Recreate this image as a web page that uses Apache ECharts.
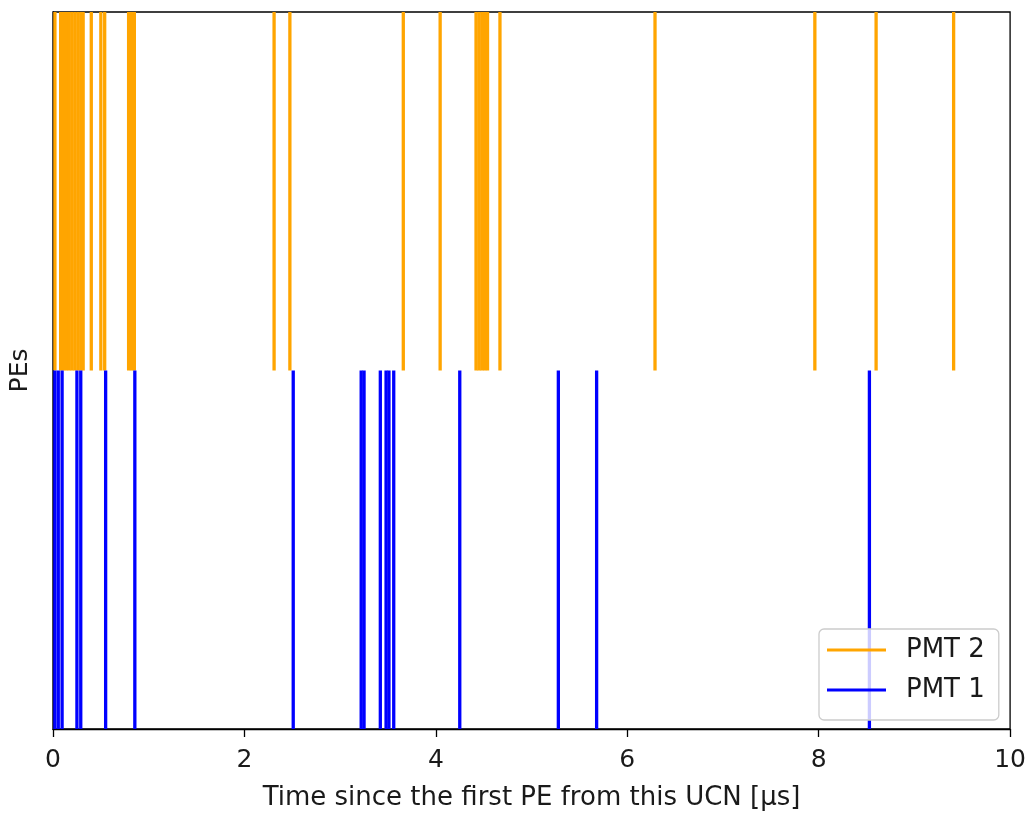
<!DOCTYPE html>
<html>
<head>
<meta charset="utf-8">
<script src="https://cdn.jsdelivr.net/npm/echarts@6/dist/echarts.min.js"></script>
<style>
html,body{margin:0;padding:0;background:#fff;}
#chart{width:1029px;height:816px;}
</style>
</head>
<body>
<div id="chart"></div>
<script>
// Event times (µs since first PE)
const pmt2Times = [0.02, 0.08, 0.11, 0.14, 0.17, 0.20, 0.23, 0.26, 0.29, 0.315, 0.40, 0.50, 0.54, 0.79, 0.82, 0.85, 2.31, 2.475, 3.66, 4.045, 4.42, 4.45, 4.48, 4.51, 4.54, 4.67, 6.29, 7.96, 8.60, 9.41];
const pmt1Times = [0.02, 0.055, 0.095, 0.25, 0.29, 0.55, 0.855, 2.51, 3.22, 3.25, 3.42, 3.48, 3.51, 3.56, 4.25, 5.28, 5.68, 8.53];
const lineOffsets = { pmt2: 1, pmt1: 0 };
const xTicks = [0, 2, 4, 6, 8, 10];
const seriesNames = ['PMT 2', 'PMT 1'];

const FONT = 'DejaVu Sans';

function eventRender(params, api) {
  const x = api.value(0);
  const off = api.value(1);
  const p1 = api.coord([x, off - 0.5]);
  const p2 = api.coord([x, off + 0.5]);
  return {
    type: 'line',
    shape: { x1: p1[0], y1: p1[1], x2: p2[0], y2: p2[1] },
    style: { stroke: api.visual('color'), lineWidth: 3.3, lineCap: 'butt' }
  };
}

const chart = echarts.init(document.getElementById('chart'), null, { renderer: 'canvas' });
chart.setOption({
  animation: false,
  backgroundColor: '#fff',
  textStyle: { fontFamily: FONT },
  grid: { left: 49, right: 17, top: 12, bottom: 83, show: true, borderColor: '#000', borderWidth: 1.3, containLabel: false },
  xAxis: {
    type: 'value', min: xTicks[0], max: xTicks[xTicks.length - 1], interval: 2,
    name: 'Time since the first PE from this UCN [µs]',
    nameLocation: 'middle', nameGap: 56,
    nameTextStyle: { fontFamily: FONT, fontSize: 26, color: '#1a1a1a' },
    axisLine: { show: true, onZero: false, lineStyle: { color: '#000', width: 1.3 } },
    axisTick: { show: true, inside: false, length: 8, lineStyle: { color: '#000', width: 1.3 } },
    axisLabel: { show: true, margin: 19, fontFamily: FONT, fontSize: 25, color: '#1a1a1a',
      formatter: v => String(v) },
    splitLine: { show: false }
  },
  yAxis: {
    type: 'value', min: -0.5, max: 1.5,
    name: 'PEs', nameLocation: 'middle', nameRotate: 90, nameGap: 20,
    nameTextStyle: { fontFamily: FONT, fontSize: 25, color: '#1a1a1a' },
    axisLine: { show: true, onZero: false, lineStyle: { color: '#000', width: 1.3 } },
    axisTick: { show: false },
    axisLabel: { show: false },
    splitLine: { show: false }
  },
  legend: {
    show: true,
    orient: 'vertical',
    left: 819, top: 629,
    data: seriesNames,
    icon: 'rect',
    itemWidth: 59, itemHeight: 3,
    itemGap: 14,
    padding: [8, 14, 17, 8],
    backgroundColor: 'rgba(255,255,255,0.8)',
    borderColor: '#cccccc', borderWidth: 1.3, borderRadius: 5,
    textStyle: { fontFamily: FONT, fontSize: 26, color: '#1a1a1a', padding: [0, 0, 0, 15] }
  },
  series: [
    {
      name: seriesNames[0], type: 'custom', renderItem: eventRender,
      itemStyle: { color: '#FFA500' },
      encode: { x: 0, y: 1 },
      data: pmt2Times.map(t => [t, lineOffsets.pmt2]),
      z: 2
    },
    {
      name: seriesNames[1], type: 'custom', renderItem: eventRender,
      itemStyle: { color: '#0000FF' },
      encode: { x: 0, y: 1 },
      data: pmt1Times.map(t => [t, lineOffsets.pmt1]),
      z: 3
    }
  ]
});
</script>
</body>
</html>
